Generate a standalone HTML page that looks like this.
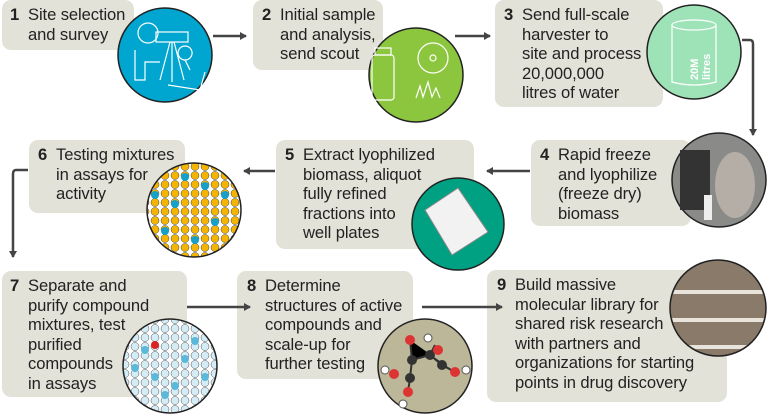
<!DOCTYPE html>
<html><head><meta charset="utf-8"><style>
html,body{margin:0;padding:0;background:#fff;}
#c{position:relative;width:767px;height:414px;overflow:hidden;font-family:"Liberation Sans",sans-serif;color:#222;}
.b{position:absolute;background:#e3e2d8;border-radius:9px;}
.t{position:absolute;font-size:16.6px;line-height:19.6px;white-space:nowrap;letter-spacing:-0.1px;}
.t b{position:absolute;left:-18px;font-weight:bold;}
svg{position:absolute;left:0;top:0;}
</style></head><body><div id="c">
<div class="b" style="left:2px;top:0;width:132px;height:50px"></div>
<div class="b" style="left:253px;top:0;width:130px;height:70px"></div>
<div class="b" style="left:495px;top:0;width:168px;height:107px"></div>
<div class="b" style="left:531px;top:140px;width:160px;height:86px"></div>
<div class="b" style="left:276px;top:140px;width:198px;height:109px"></div>
<div class="b" style="left:29px;top:140px;width:156px;height:73px"></div>
<div class="b" style="left:2px;top:271px;width:185px;height:126px"></div>
<div class="b" style="left:237px;top:271px;width:176px;height:108px"></div>
<div class="b" style="left:487px;top:270px;width:240px;height:132px"></div>

<div class="t" style="left:28px;top:5px"><b>1</b>Site selection<br>and survey</div>
<div class="t" style="left:280px;top:5px"><b>2</b>Initial sample<br>and analysis,<br>send scout</div>
<div class="t" style="left:522px;top:5px"><b>3</b>Send full-scale<br>harvester to<br>site and process<br>20,000,000<br>litres of water</div>
<div class="t" style="left:558px;top:145px"><b>4</b>Rapid freeze<br>and lyophilize<br>(freeze dry)<br>biomass</div>
<div class="t" style="left:303px;top:145px"><b>5</b>Extract lyophilized<br>biomass, aliquot<br>fully refined<br>fractions into<br>well plates</div>
<div class="t" style="left:56px;top:145px"><b>6</b>Testing mixtures<br>in assays for<br>activity</div>
<div class="t" style="left:28px;top:276px"><b>7</b>Separate and<br>purify compound<br>mixtures, test<br>purified<br>compounds<br>in assays</div>
<div class="t" style="left:265px;top:276px"><b>8</b>Determine<br>structures of active<br>compounds and<br>scale-up for<br>further testing</div>
<div class="t" style="left:515px;top:275px"><b>9</b>Build massive<br>molecular library for<br>shared risk research<br>with partners and<br>organizations for starting<br>points in drug discovery</div>

<svg width="767" height="414" viewBox="0 0 767 414">
<defs>
<marker id="a" markerWidth="8" markerHeight="8" refX="6" refY="4" orient="auto" markerUnits="userSpaceOnUse"><path d="M0,0 L7,4 L0,8 Z" fill="#444"/></marker>
<pattern id="p6" width="10" height="9" patternUnits="userSpaceOnUse"><rect width="10" height="9" fill="#fff"/><circle cx="5" cy="4.5" r="4" fill="#f4b400" stroke="#444" stroke-width=".5"/></pattern>
<pattern id="p7" width="10" height="9" patternUnits="userSpaceOnUse"><rect width="10" height="9" fill="#fff"/><circle cx="5" cy="4.5" r="4" fill="#d4ecf6" stroke="#555" stroke-width=".5"/></pattern>
<clipPath id="k6"><circle cx="194" cy="210" r="47"/></clipPath>
<clipPath id="k7"><circle cx="170" cy="366" r="47"/></clipPath>
<clipPath id="k9"><circle cx="718" cy="308" r="47"/></clipPath>
</defs>
<g stroke="#444" stroke-width="2.5" fill="none">
<line x1="213" y1="36" x2="246" y2="36" marker-end="url(#a)"/>
<line x1="455" y1="36" x2="490" y2="36" marker-end="url(#a)"/>
<path d="M742,40 H750 Q753,40 753,44 V135" marker-end="url(#a)"/>
<line x1="530" y1="171" x2="487" y2="171" marker-end="url(#a)"/>
<line x1="275" y1="171" x2="244" y2="171" marker-end="url(#a)"/>
<path d="M28,170 H16 Q13,170 13,174 V257" marker-end="url(#a)"/>
<line x1="187" y1="307" x2="250" y2="307" marker-end="url(#a)"/>
<line x1="422" y1="307" x2="502" y2="307" marker-end="url(#a)"/>
</g>
<circle cx="165" cy="55" r="47" fill="#00a6d0" stroke="#222" stroke-width="1.5"/>
<g stroke="#fff" fill="none" stroke-width="1.2"><circle cx="148" cy="33" r="10"/><rect x="156" y="32" width="32" height="10"/><path d="M170,42 L160,80 M172,42 L172,82 M174,42 L184,80 M135,50 V80 H145 V62 H160"/><path d="M185,60 a7,7 0 1,1 0.1,0 L190,70 Z M168,85 L200,90 L205,72"/></g>
<circle cx="416" cy="75" r="47" fill="#8cc63f" stroke="#222" stroke-width="1.5"/>
<g stroke="#fff" fill="none" stroke-width="1.2"><rect x="372" y="55" width="22" height="45" rx="3"/><rect x="375" y="48" width="16" height="7"/><circle cx="433" cy="58" r="15"/><circle cx="433" cy="58" r="3"/><path d="M416,98 L420,86 L423,97 L428,82 L432,97 L436,88 L440,98"/></g>
<circle cx="694" cy="52" r="47" fill="#9ee3b8" stroke="#222" stroke-width="1.5"/>
<g stroke="#fff" fill="none" stroke-width="1.2"><path d="M672,25 V82 Q694,88 716,82 V25"/><ellipse cx="694" cy="25" rx="22" ry="5"/></g>
<text x="698" y="80" transform="rotate(-90 698 80)" fill="#fff" font-family="Liberation Sans" font-weight="bold" font-size="11">20M</text>
<text x="710" y="80" transform="rotate(-90 710 80)" fill="#fff" font-family="Liberation Sans" font-weight="bold" font-size="11">litres</text>
<circle cx="719" cy="180" r="47" fill="#8a8a88" stroke="#222" stroke-width="1.5"/>
<rect x="680" y="150" width="30" height="60" fill="#333"/><ellipse cx="735" cy="185" rx="20" ry="33" fill="#b5aea6"/><rect x="704" y="195" width="8" height="25" fill="#eee"/>
<circle cx="458" cy="224" r="46" fill="#00a082" stroke="#222" stroke-width="1.5"/>
<path d="M425,210 L458,188 L488,232 L452,255 Z" fill="#f2f2f2" stroke="#888"/>
<circle cx="194" cy="210" r="47" fill="url(#p6)" stroke="#222" stroke-width="1.5"/>
<g clip-path="url(#k6)" fill="#18a0c8"><circle cx="155" cy="195" r="4"/><circle cx="175" cy="204" r="4"/><circle cx="205" cy="186" r="4"/><circle cx="215" cy="222" r="4"/><circle cx="165" cy="231" r="4"/><circle cx="195" cy="240" r="4"/><circle cx="225" cy="195" r="4"/><circle cx="185" cy="177" r="4"/></g>
<circle cx="170" cy="366" r="47" fill="url(#p7)" stroke="#222" stroke-width="1.5"/>
<g clip-path="url(#k7)" fill="#5bb8d9"><circle cx="145" cy="350" r="4"/><circle cx="185" cy="359" r="4"/><circle cx="155" cy="377" r="4"/><circle cx="175" cy="386" r="4"/><circle cx="195" cy="341" r="4"/><circle cx="135" cy="368" r="4"/><circle cx="205" cy="377" r="4"/><circle cx="165" cy="395" r="4"/></g>
<circle cx="155" cy="345" r="4" fill="#d22"/>
<circle cx="425" cy="366" r="47" fill="#bdb79a" stroke="#222" stroke-width="1.5"/>
<g stroke="#333" stroke-width="2"><path d="M410,340 L412,360 L430,355 L442,365 L455,372 M412,360 L410,378 L408,392 M430,355 L435,345"/></g>
<g><circle cx="410" cy="340" r="5" fill="#d33"/><circle cx="412" cy="360" r="5" fill="#333"/><circle cx="430" cy="355" r="5" fill="#333"/><circle cx="438" cy="350" r="5" fill="#d33"/><circle cx="442" cy="365" r="5" fill="#333"/><circle cx="455" cy="372" r="5" fill="#d33"/><circle cx="410" cy="378" r="5" fill="#333"/><circle cx="394" cy="374" r="5" fill="#d33"/><circle cx="408" cy="392" r="5" fill="#d33"/><circle cx="403" cy="404" r="4" fill="#fff" stroke="#555"/><circle cx="385" cy="370" r="4" fill="#fff" stroke="#555"/><circle cx="466" cy="370" r="4" fill="#fff" stroke="#555"/><circle cx="428" cy="338" r="4" fill="#fff" stroke="#555"/></g>
<circle cx="718" cy="308" r="48" fill="#8a7a6a" stroke="#222" stroke-width="1.5"/>
<g fill="#e8e4dc" clip-path="url(#k9)"><rect x="670" y="290" width="97" height="4"/><rect x="670" y="318" width="97" height="4"/><rect x="670" y="345" width="97" height="4"/></g>
</svg>
</div></body></html>
